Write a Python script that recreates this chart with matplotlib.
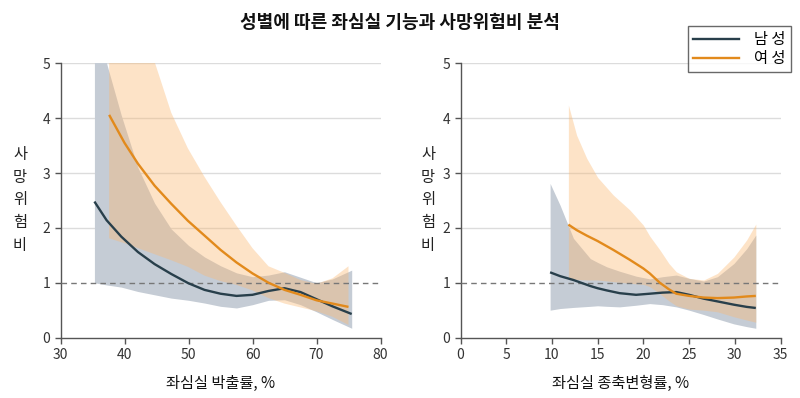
import matplotlib
matplotlib.use("Agg")
import matplotlib.pyplot as plt
from matplotlib.lines import Line2D

plt.rcParams['font.family'] = ['Noto Sans CJK KR', 'DejaVu Sans']

# ---------------- data ----------------
title = "성별에 따른 좌심실 기능과 사망위험비 분석"
ylabel = "사\n망\n위\n험\n비"
xlabel_left = "좌심실 박출률, %"
xlabel_right = "좌심실 종축변형률, %"
legend_labels = ["남 성", "여 성"]

# Left panel: LV ejection fraction
ef_male_x = [35.3, 37.2, 39.5, 42.1, 44.7, 47.3, 50, 52.5, 55, 57.5, 60, 62.5, 65, 67.5, 70, 72.5, 75.5]
ef_male_hr = [2.48, 2.14, 1.84, 1.56, 1.34, 1.16, 0.99, 0.87, 0.80, 0.76, 0.78, 0.85, 0.90, 0.83, 0.70, 0.57, 0.43]
ef_male_hi = [6.5, 5.0, 4.05, 3.1, 2.45, 1.98, 1.68, 1.47, 1.31, 1.18, 1.11, 1.14, 1.20, 1.10, 1.00, 1.07, 1.23]
ef_male_lo = [1.0, 0.96, 0.92, 0.84, 0.78, 0.72, 0.68, 0.63, 0.57, 0.54, 0.60, 0.68, 0.69, 0.60, 0.47, 0.33, 0.17]

ef_female_x = [37.6, 40, 42.1, 44.7, 47.3, 49.9, 52.5, 55, 57.5, 60, 62.5, 65, 67.5, 70, 72.5, 75]
ef_female_hr = [4.06, 3.55, 3.17, 2.77, 2.44, 2.13, 1.86, 1.60, 1.37, 1.17, 1.00, 0.87, 0.78, 0.68, 0.62, 0.56]
ef_female_hi = [8.8, 7.3, 6.2, 5.03, 4.1, 3.45, 2.93, 2.47, 2.04, 1.63, 1.30, 1.18, 1.05, 0.98, 1.08, 1.30]
ef_female_lo = [1.81, 1.72, 1.63, 1.52, 1.41, 1.29, 1.13, 1.03, 0.96, 0.86, 0.72, 0.62, 0.55, 0.48, 0.38, 0.23]

# Right panel: LV global longitudinal strain
gls_male_x = [9.8, 10.9, 12.35, 14.2, 15, 16, 17.4, 19.2, 20.7, 22.1, 23.6, 25, 26.6, 28.1, 29.9, 31.3, 32.3]
gls_male_hr = [1.19, 1.12, 1.05, 0.94, 0.90, 0.86, 0.81, 0.78, 0.80, 0.82, 0.83, 0.78, 0.71, 0.66, 0.60, 0.56, 0.54]
gls_male_hi = [2.81, 2.41, 1.81, 1.44, 1.37, 1.29, 1.21, 1.12, 1.07, 1.11, 1.14, 1.08, 1.03, 1.11, 1.35, 1.62, 1.87]
gls_male_lo = [0.50, 0.53, 0.55, 0.57, 0.58, 0.57, 0.56, 0.59, 0.62, 0.60, 0.56, 0.50, 0.42, 0.34, 0.25, 0.20, 0.17]

gls_female_x = [11.8, 12.7, 13.8, 15, 16.7, 18.5, 20, 20.7, 21.8, 22.8, 23.6, 25, 26.6, 28.1, 29.9, 31.3, 32.3]
gls_female_hr = [2.06, 1.96, 1.86, 1.76, 1.60, 1.42, 1.26, 1.17, 1.00, 0.88, 0.80, 0.76, 0.73, 0.72, 0.73, 0.75, 0.76]
gls_female_hi = [4.24, 3.69, 3.27, 2.92, 2.60, 2.33, 2.05, 1.85, 1.60, 1.35, 1.20, 1.08, 1.05, 1.17, 1.47, 1.78, 2.07]
gls_female_lo = [1.07, 1.06, 1.05, 1.05, 1.02, 0.99, 0.97, 0.93, 0.80, 0.67, 0.58, 0.52, 0.50, 0.47, 0.38, 0.32, 0.28]

yticks = [0, 1, 2, 3, 4, 5]
ef_xticks = [30, 40, 50, 60, 70, 80]
gls_xticks = [0, 5, 10, 15, 20, 25, 30, 35]

# ---------------- style ----------------
male_line = '#283f4b'
male_band = '#c5ccd5'
female_line = '#e28a1c'
female_band = '#fab975'
female_alpha = 0.4
tick_color = '#333333'
spine_color = '#555555'

fig = plt.figure(figsize=(8.0, 3.98), dpi=100)
ax1 = fig.add_axes([60.5/800, 1-337.6/398, 320/800, 274.3/398])
ax2 = fig.add_axes([460.5/800, 1-337.6/398, 320/800, 274.3/398])


def draw(ax, mx, mhr, mhi, mlo, fx, fhr, fhi, flo, xlim, xticks, xlabel):
    ax.set_xlim(*xlim)
    ax.set_ylim(0, 5)
    for y in yticks[1:]:
        if y != 1:
            ax.axhline(y, color='#dcdcdc', lw=1.0, zorder=0)
    ax.fill_between(mx, mlo, mhi, color=male_band, lw=0, zorder=1)
    ax.fill_between(fx, flo, fhi, color=female_band, alpha=female_alpha, lw=0, zorder=2)
    ax.axhline(1, color='#777777', lw=1.0, ls=(0, (4, 3)), zorder=3)
    ax.plot(mx, mhr, color=male_line, lw=1.7, zorder=4, solid_capstyle='butt',
            solid_joinstyle='round')
    ax.plot(fx, fhr, color=female_line, lw=1.7, zorder=5, solid_capstyle='butt',
            solid_joinstyle='round')
    ax.set_xticks(xticks)
    ax.set_yticks(yticks)
    for s in ['top', 'right']:
        ax.spines[s].set_visible(False)
    for s in ['left', 'bottom']:
        ax.spines[s].set_color(spine_color)
        ax.spines[s].set_linewidth(1.0)
    ax.tick_params(axis='both', colors=spine_color, labelcolor=tick_color,
                   labelsize=10, length=4, width=1.0, direction='out')
    ax.set_xlabel(xlabel, fontsize=11, color='#111111', labelpad=9)


draw(ax1, ef_male_x, ef_male_hr, ef_male_hi, ef_male_lo,
     ef_female_x, ef_female_hr, ef_female_hi, ef_female_lo,
     (30, 80), ef_xticks, xlabel_left)
draw(ax2, gls_male_x, gls_male_hr, gls_male_hi, gls_male_lo,
     gls_female_x, gls_female_hr, gls_female_hi, gls_female_lo,
     (0, 35), gls_xticks, xlabel_right)

for xpx in (20, 428):
    fig.text(xpx/800, 1-200/398, ylabel, ha='center', va='center',
             fontsize=11, color='#222222', linespacing=1.45)

fig.text(0.5, 1-22/398, title, ha='center', va='center',
         fontsize=13, fontweight='bold', color='#111111')

handles = [Line2D([0], [0], color=male_line, lw=1.7),
           Line2D([0], [0], color=female_line, lw=1.7)]
leg = fig.legend(handles, legend_labels, loc='upper right',
                 bbox_to_anchor=(791/800, 1-26/398), fontsize=11,
                 frameon=True, fancybox=False, edgecolor='#444444',
                 handlelength=3.0, handletextpad=1.0, labelspacing=0.1,
                 borderpad=0.35, borderaxespad=0)
leg.get_frame().set_linewidth(1.0)

fig.savefig('out.png', dpi=100)
